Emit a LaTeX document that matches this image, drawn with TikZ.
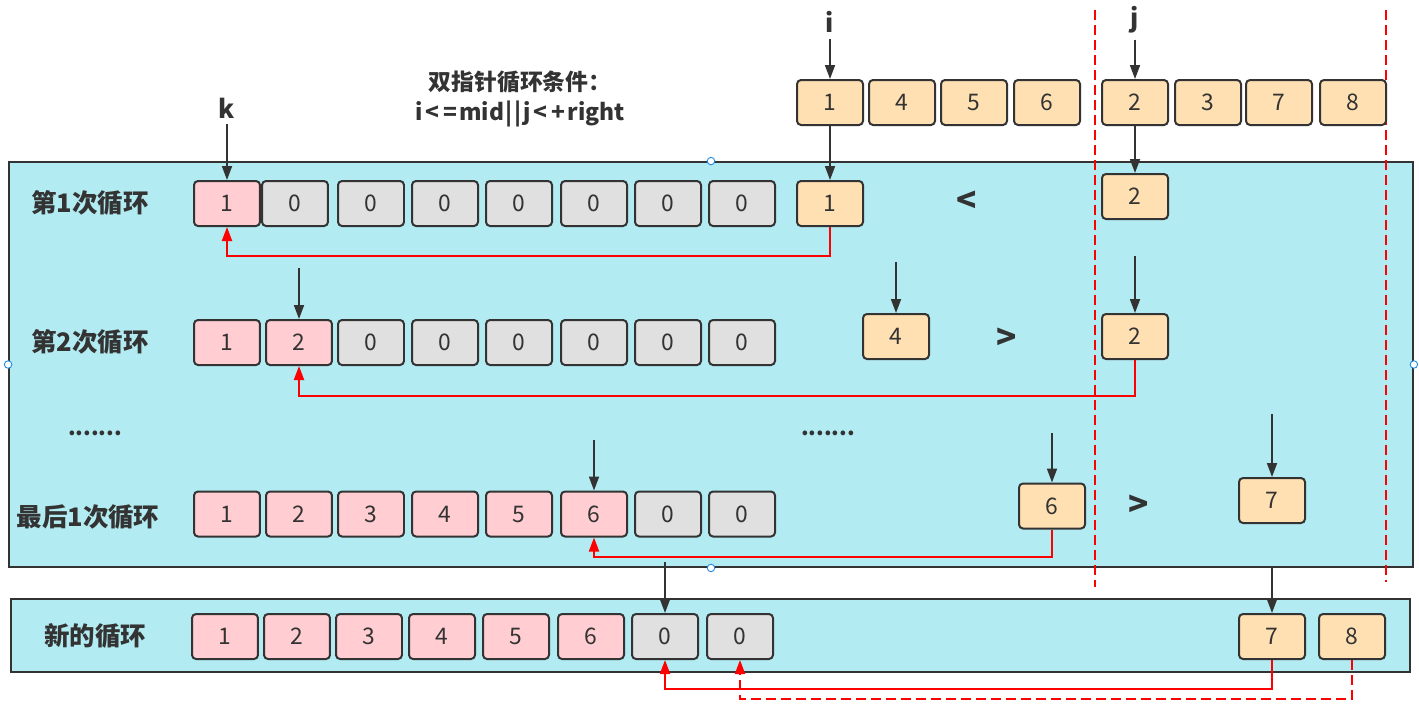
\documentclass[tikz,border=0pt]{standalone}
\usepackage{fontspec}
\usepackage{tikz}
\usetikzlibrary{arrows.meta, positioning, calc}
\newfontfamily\cjk{Noto Sans CJK SC}
\definecolor{dark}{HTML}{333333}
\definecolor{pinkc}{HTML}{FFCDD2}
\definecolor{grayc}{HTML}{E0E0E0}
\definecolor{orangec}{HTML}{FFE0B2}
\definecolor{cyanc}{HTML}{B2EBF2}
\definecolor{handlec}{HTML}{1E88E5}

\begin{document}
\begin{tikzpicture}[x=0.02cm, y=-0.02cm, font=\cjk,
  cell/.style={draw=dark, line width=0.04cm, rounded corners=0.08cm, minimum width=1.32cm, minimum height=0.9cm, inner sep=0pt, text=dark, font=\cjk\fontsize{13}{13}\selectfont},
  done/.style={cell, fill=pinkc},
  zero/.style={cell, fill=grayc},
  src/.style={cell, fill=orangec},
  panel/.style={draw=dark, fill=cyanc, line width=0.04cm, inner sep=0pt},
  lbl/.style={text=dark, font=\cjk\bfseries\fontsize{14.5}{15}\selectfont},
  cmp/.style={text=dark, font=\cjk\bfseries\fontsize{19}{19}\selectfont},
  ptr/.style={draw=dark, line width=0.035cm, -{Triangle[width=0.2cm,length=0.28cm]}},
  back/.style={draw=red, line width=0.04cm, -{Triangle[width=0.2cm,length=0.28cm]}},
  cut/.style={draw=red, line width=0.04cm, dash pattern=on 0.2cm off 0.1cm},
  handle/.style={circle, draw=handlec, fill=white, line width=0.5pt, minimum size=0.15cm, inner sep=0pt}]
\useasboundingbox (0,0) rectangle (1419,711);

% Panels
\node[panel, minimum width=28.08cm, minimum height=8.1cm] (loop) at (711,364.5) {};
\node[panel, minimum width=27.98cm, minimum height=1.46cm] (fresh) at (710.5,635.5) {};

% Right half boundaries
\coordinate (d1a) at (1095,10);
\coordinate (d1b) at (1095,587);
\coordinate (d2a) at (1386,10);
\coordinate (d2b) at (1386,582);
\draw[cut] (d1a) -- (d1b);
\draw[cut] (d2a) -- (d2b);

% Source array and pointers
\node[lbl, align=center, font=\cjk\bfseries\fontsize{13}{17}\selectfont] (cond) at (520,99) {双指针循环条件：\\i\kern1.5pt<\kern2.5pt=\kern1pt mid\kern1pt|\kern1pt|\kern1pt j\kern1.5pt<\kern2.5pt+\kern1pt right};
\node[lbl] (i) at (830,22) {i};
\node[lbl] (j) at (1135,20) {j};
\node[lbl] (k) at (227,108) {k};
\node[src] (t1) at (830,102.5) {1};
\node[src] (t2) at (902,102.5) {4};
\node[src] (t3) at (974,102.5) {5};
\node[src] (t4) at (1047,102.5) {6};
\node[src] (t5) at (1135,102.5) {2};
\node[src] (t6) at (1208,102.5) {3};
\node[src] (t7) at (1279,102.5) {7};
\node[src] (t8) at (1353,102.5) {8};

% First round
\node[lbl] (l1) at (90,203) {第1次循环};
\node[done] (r1a1) at (227,203.5) {1};
\node[zero] (r1a2) at (295,203.5) {0};
\node[zero] (r1a3) at (371,203.5) {0};
\node[zero] (r1a4) at (445,203.5) {0};
\node[zero] (r1a5) at (519,203.5) {0};
\node[zero] (r1a6) at (594,203.5) {0};
\node[zero] (r1a7) at (668,203.5) {0};
\node[zero] (r1a8) at (742,203.5) {0};
\node[src] (r1o1) at (830,203.5) {1};
\node[cmp] (lt1) at (967,202) {<};
\node[src] (r1o2) at (1135,196.5) {2};

% Second round
\node[lbl] (l2) at (90,342) {第2次循环};
\node[done] (r2a1) at (227,342.5) {1};
\node[done] (r2a2) at (299,342.5) {2};
\node[zero] (r2a3) at (371,342.5) {0};
\node[zero] (r2a4) at (445,342.5) {0};
\node[zero] (r2a5) at (519,342.5) {0};
\node[zero] (r2a6) at (594,342.5) {0};
\node[zero] (r2a7) at (668,342.5) {0};
\node[zero] (r2a8) at (742,342.5) {0};
\node[src] (r2o1) at (896,336.5) {4};
\node[cmp] (gt2) at (1007,339) {>};
\node[src] (r2o2) at (1135,336.5) {2};

\node[lbl, font=\cjk\bfseries\fontsize{12.5}{13}\selectfont] (dl) at (95,433) {.......};
\node[lbl, font=\cjk\bfseries\fontsize{12.5}{13}\selectfont] (dr) at (828,433) {.......};

% Last round
\node[lbl] (l3) at (88,517) {最后1次循环};
\node[done] (r3a1) at (227,514) {1};
\node[done] (r3a2) at (299,514) {2};
\node[done] (r3a3) at (371,514) {3};
\node[done] (r3a4) at (445,514) {4};
\node[done] (r3a5) at (519,514) {5};
\node[done] (r3a6) at (594,514) {6};
\node[zero] (r3a7) at (668,514) {0};
\node[zero] (r3a8) at (742,514) {0};
\node[src] (r3o1) at (1052,506) {6};
\node[cmp] (gt3) at (1139,506) {>};
\node[src] (r3o2) at (1272,500.5) {7};

% New loop
\node[lbl] (l4) at (95,636) {新的循环};
\node[done] (n1) at (225,636.5) {1};
\node[done] (n2) at (297,636.5) {2};
\node[done] (n3) at (369,636.5) {3};
\node[done] (n4) at (442,636.5) {4};
\node[done] (n5) at (516,636.5) {5};
\node[done] (n6) at (591,636.5) {6};
\node[zero] (n0a) at (665,636.5) {0};
\node[zero] (n0b) at (740,636.5) {0};
\node[src] (n7) at (1272,636.5) {7};
\node[src] (n8) at (1352,636.5) {8};

% Pointer arrows
\coordinate (p22) at (299,268);
\coordinate (q4) at (896,262);
\coordinate (q2) at (1135,256);
\coordinate (p36) at (594,440);
\coordinate (q6) at (1052,433);
\coordinate (q7) at (1272,414);
\coordinate (m0) at (665,562);
\coordinate (m7) at (1272,568);
\draw[ptr] (i) -- (t1);
\draw[ptr] (j) -- (t5);
\draw[ptr] (k) -- (r1a1);
\draw[ptr] (t1) -- (r1o1);
\draw[ptr] (t5) -- (r1o2);
\draw[ptr] (p22) -- (r2a2);
\draw[ptr] (q4) -- (r2o1);
\draw[ptr] (q2) -- (r2o2);
\draw[ptr] (p36) -- (r3a6);
\draw[ptr] (q6) -- (r3o1);
\draw[ptr] (q7) -- (r3o2);
\draw[ptr] (m0) -- (n0a);
\draw[ptr] (m7) -- (n7);

% Copy back
\draw[back] (r1o1.south) -- ++(0,29) -| (r1a1.south);
\draw[back] (r2o2.south) -- ++(0,36) -| (r2a2.south);
\draw[back] (r3o1.south) -- ++(0,27) -| (r3a6.south);
\draw[back] (n7.south) -- ++(0,29) -| (n0a.south);
\draw[back, dash pattern=on 0.2cm off 0.1cm] (n8.south) -- ++(0,39) -| (n0b.south);

% Selection handles
\node[handle] (h1) at (loop.north) {};
\node[handle] (h2) at (loop.south) {};
\node[handle] (h3) at (loop.west) {};
\node[handle] (h4) at (loop.east) {};
\end{tikzpicture}
\end{document}
